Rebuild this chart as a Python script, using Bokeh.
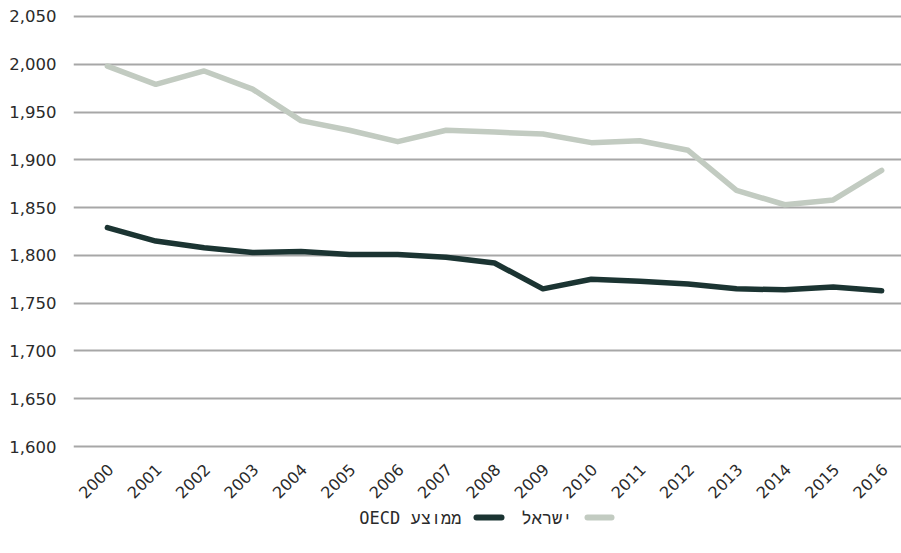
import math
from bokeh.plotting import figure
from bokeh.models import FixedTicker, Range1d, NumeralTickFormatter
from bokeh.core.properties import value
from bokeh.embed import file_html
from bokeh.resources import INLINE

years = list(range(2000, 2017))
israel = [1998, 1979, 1993, 1974, 1941, 1931, 1919, 1931, 1929, 1927, 1918, 1920, 1910, 1868, 1853, 1858, 1889]
oecd = [1829, 1815, 1808, 1803, 1804, 1801, 1801, 1798, 1792, 1765, 1775, 1773, 1770, 1765, 1764, 1767, 1763]
y_ticks = [1600, 1650, 1700, 1750, 1800, 1850, 1900, 1950, 2000, 2050]
year_labels = [str(y) for y in years]
label_israel = "ישראל"
label_oecd = "OECD ממוצע"

C_ISR = "#c2cbc1"
C_OECD = "#1b3432"
TXT = "#2a2a2a"
FONT = "DejaVu Sans"
LEG_FONT = "DejaVu Sans Mono, Liberation Mono, monospace"

# frame geometry (pixels) -> ranges
W, H = 901, 553
LEFT, TOP = 73, 5
X0, X1 = 1999.30, 2016.41
Y1 = 2061.5
UPP_Y = 1.04646                       # data units per pixel (vertical)
Y0 = Y1 - (H - TOP) * UPP_Y
UPP_X = (X1 - X0) / (W - LEFT)

def px_y(py):
    return Y1 - (py - TOP) * UPP_Y

def px_x(px):
    return X0 + (px - LEFT) * UPP_X

p = figure(width=W, height=H, output_backend="svg", toolbar_location=None,
           x_range=Range1d(X0, X1), y_range=Range1d(Y0, Y1), x_axis_type=None,
           min_border_top=TOP, min_border_left=LEFT, min_border_right=0, min_border_bottom=0)
p.outline_line_color = None
p.background_fill_color = "white"
p.border_fill_color = "white"

p.ygrid.grid_line_color = "#a7a7a7"
p.ygrid.grid_line_width = 2
p.ygrid.ticker = FixedTicker(ticks=y_ticks)

p.yaxis.ticker = FixedTicker(ticks=y_ticks)
p.yaxis.formatter = NumeralTickFormatter(format="0,0")
p.yaxis.axis_line_color = None
p.yaxis.major_tick_line_color = None
p.yaxis.minor_tick_line_color = None
p.yaxis.major_label_text_font = FONT
p.yaxis.major_label_text_font_size = "16.5px"
p.yaxis.major_label_text_color = TXT
p.yaxis.major_label_standoff = 11

p.line(years, israel, line_color=C_ISR, line_width=5.5, line_join="round", line_cap="round")
p.line(years, oecd, line_color=C_OECD, line_width=5.5, line_join="round", line_cap="round")

# rotated year labels along the bottom
p.text(x=[y + 3 * UPP_X for y in years], y=[px_y(466)] * len(years), text=year_labels,
       angle=math.pi / 4, text_align="right", text_baseline="middle",
       text_font=value(FONT), text_font_size="16px", text_color=TXT)

# legend (right-to-left: text then swatch)
LY = px_y(517)
p.text(x=[px_x(461)], y=[LY], text=[label_oecd], text_align="right", text_baseline="middle",
       text_font=value(LEG_FONT), text_font_size="17px", text_color=TXT)
p.line(x=[px_x(476), px_x(501)], y=[LY, LY], line_color=C_OECD, line_width=6, line_cap="round")
p.text(x=[px_x(572)], y=[LY], text=[label_israel], text_align="right", text_baseline="middle",
       text_font=value(LEG_FONT), text_font_size="17px", text_color=TXT)
p.line(x=[px_x(587), px_x(611)], y=[LY, LY], line_color=C_ISR, line_width=6, line_cap="round")

open("out.html", "w").write(file_html(p, INLINE))
